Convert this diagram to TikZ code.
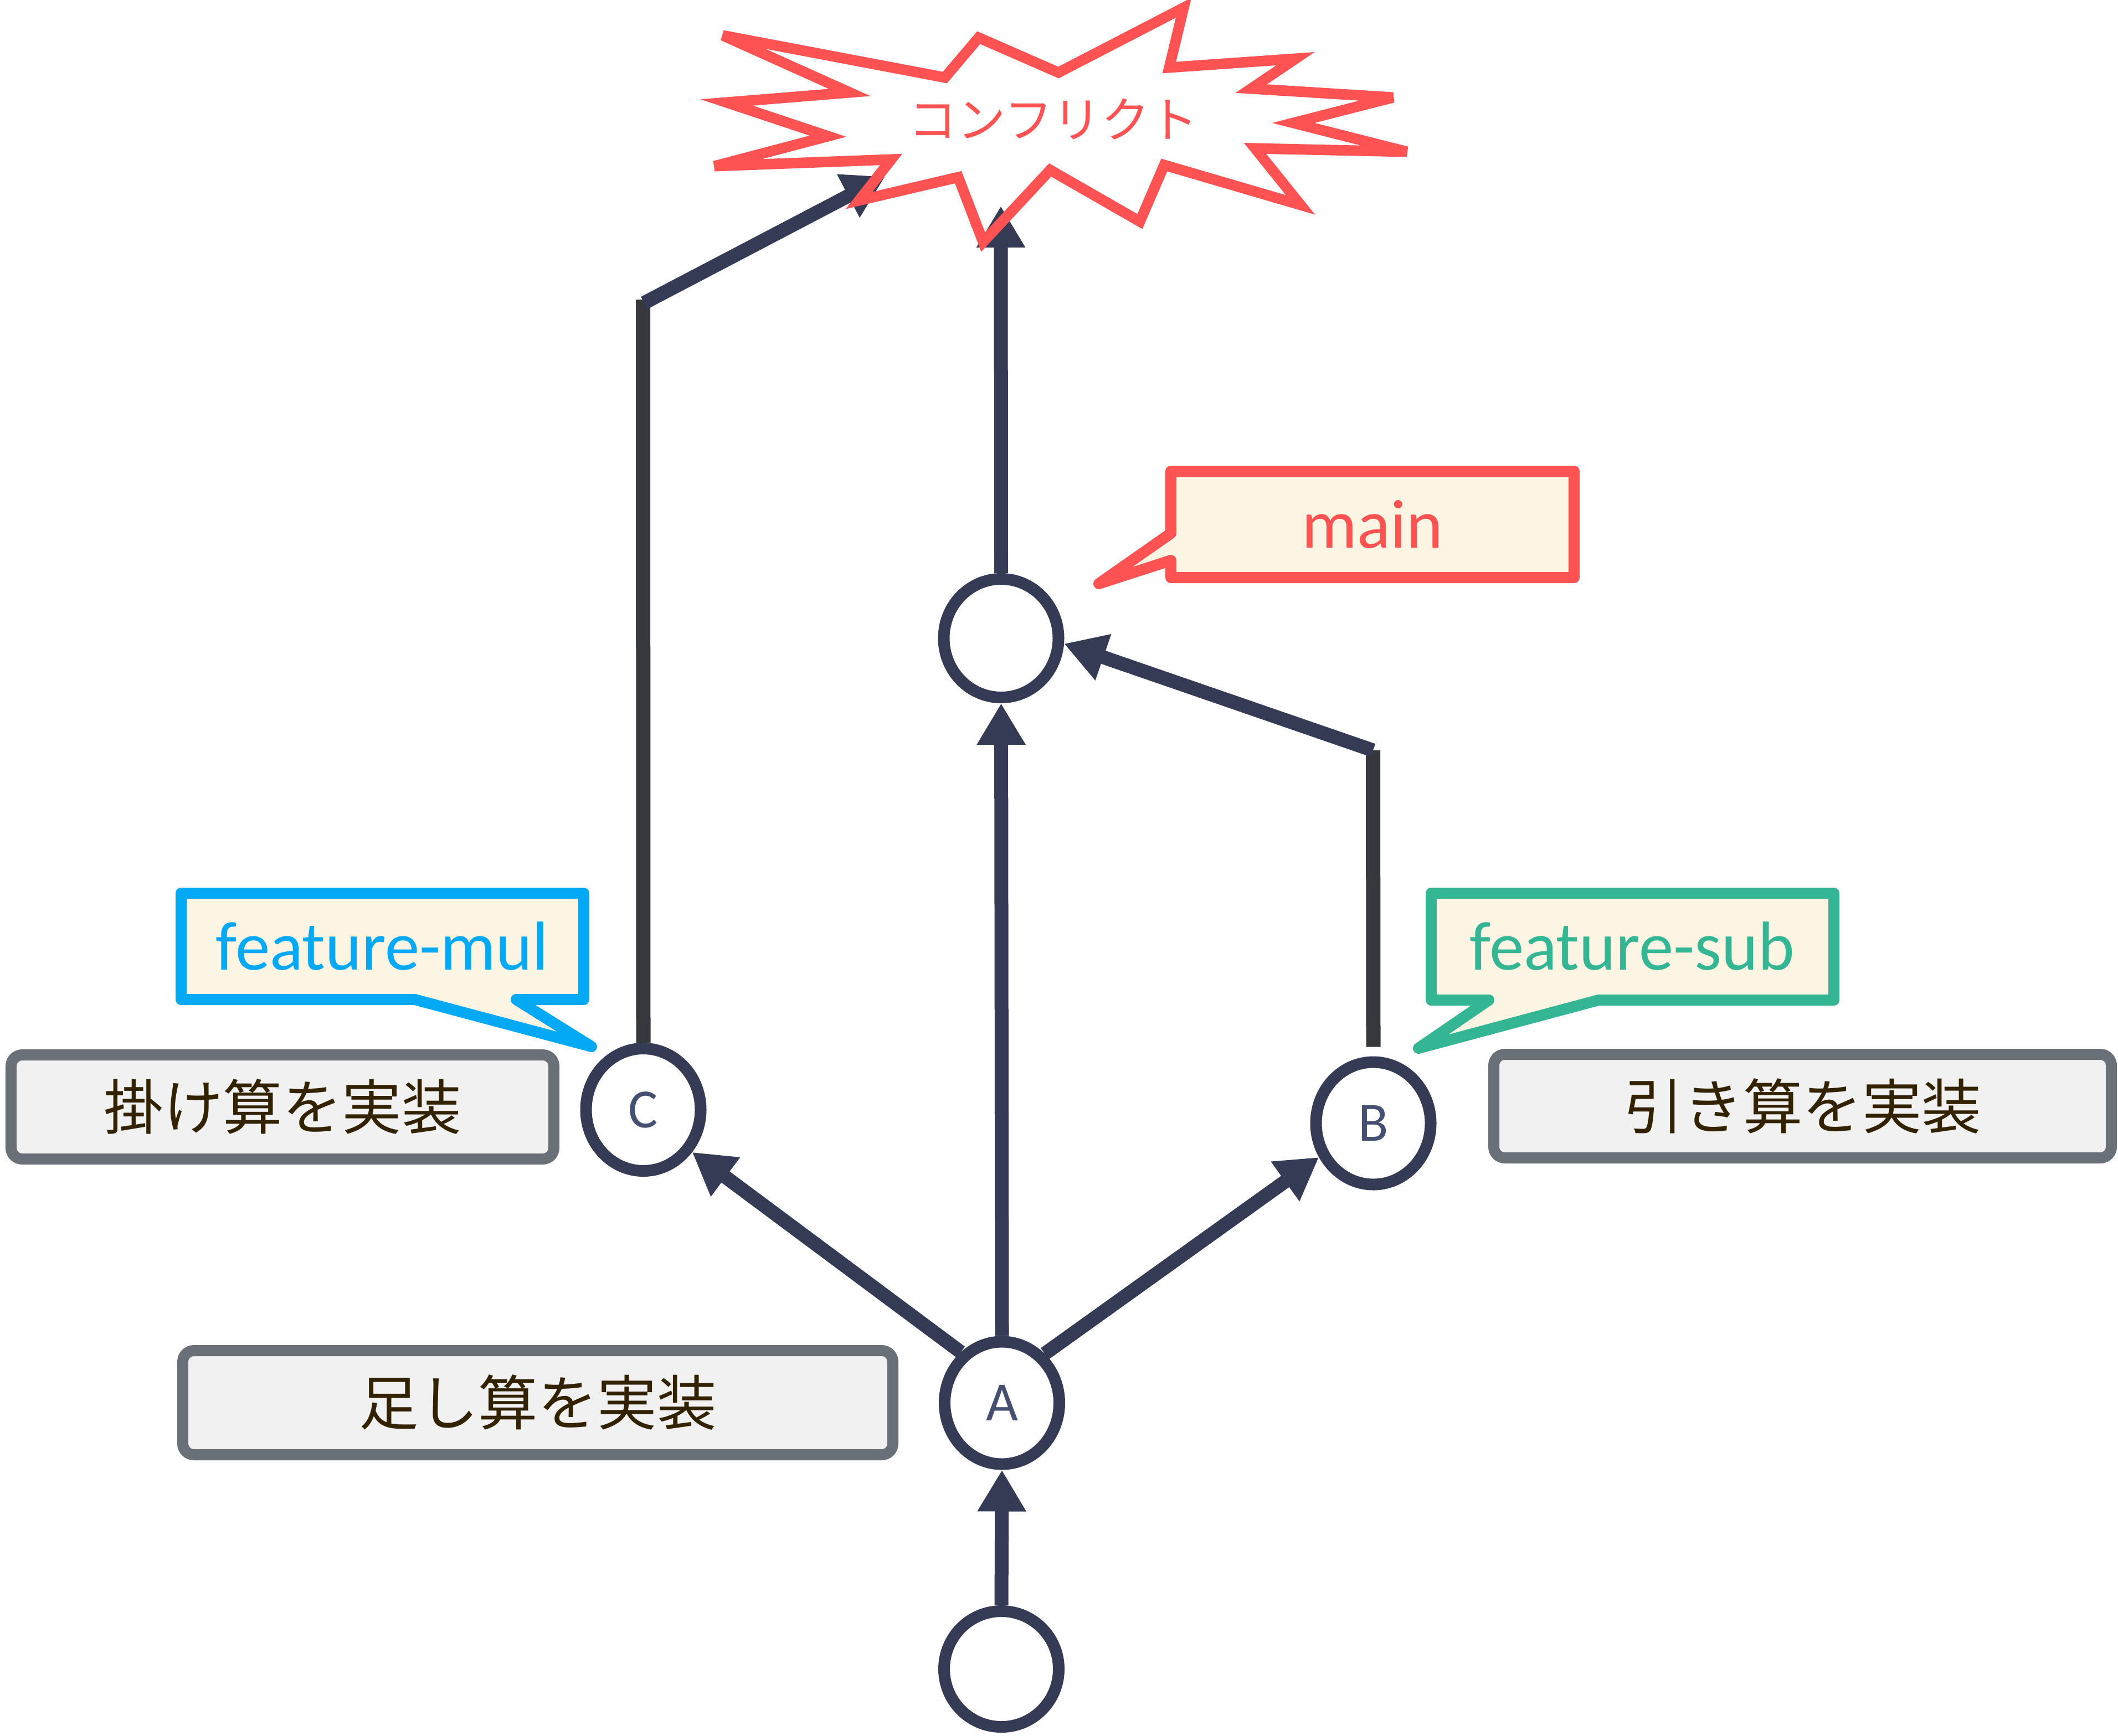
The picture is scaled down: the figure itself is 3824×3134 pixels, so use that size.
\documentclass[tikz,border=0pt]{standalone}
\usepackage{fontspec}
\usetikzlibrary{arrows.meta,shapes.geometric}
\newfontfamily\cjkfont{Noto Sans CJK JP}
\newfontfamily\latfont{Carlito}
\definecolor{navy}{RGB}{54,59,85}
\definecolor{stemgray}{RGB}{53,56,61}
\definecolor{lettercol}{RGB}{69,79,114}
\definecolor{redc}{RGB}{255,82,82}
\definecolor{bluec}{RGB}{3,169,244}
\definecolor{greenc}{RGB}{52,181,147}
\definecolor{cream}{RGB}{253,245,227}
\definecolor{boxgray}{RGB}{106,112,120}
\definecolor{boxfill}{RGB}{241,241,241}
\definecolor{txtbrown}{RGB}{51,34,0}
\begin{document}
\begin{tikzpicture}[x=0.2pt,y=-0.2pt,
  commit/.style={ellipse, draw=navy, line width=4.2pt, fill=white, inner sep=0pt,
    minimum width=41.4pt, minimum height=44.2pt,
    font=\latfont\fontsize{20pt}{24pt}\selectfont, text=lettercol},
  conn/.style={draw=navy, line width=5pt, -{Triangle[length=15pt,width=16.6pt]}},
  stem/.style={draw=stemgray, line width=5.2pt},
  taskbox/.style={rectangle, rounded corners=4pt, draw=boxgray, fill=boxfill, line width=4pt,
    inner sep=0pt, font=\cjkfont\fontsize{21.5pt}{26pt}\selectfont, text=txtbrown},
  callout/.style={line width=4pt, line join=round, fill=cream},
  calloutlbl/.style={font=\latfont\fontsize{25pt}{30pt}\selectfont, inner sep=0pt},
  burst/.style={draw=redc, line width=3.8pt, line join=miter, miter limit=6}
]
\useasboundingbox (0,0) rectangle (3824,3134);

% callouts
\draw[callout, draw=redc] (2114,851) -- (2842,851) -- (2842,1043) -- (2114,1043) -- (2114,1012) -- (1984,1054) -- (2114,963) -- cycle;
\node[calloutlbl, text=redc] (mainlbl) at (2478,947) {main};

\draw[callout, draw=bluec] (327,1613) -- (1054,1613) -- (1054,1805) -- (932,1805) -- (1068,1890) -- (749,1805) -- (327,1805) -- cycle;
\node[calloutlbl, text=bluec] (mullbl) at (690,1709) {feature-mul};

\draw[callout, draw=greenc] (2584,1613) -- (3311,1613) -- (3311,1806) -- (2886,1806) -- (2561,1893) -- (2688,1806) -- (2584,1806) -- cycle;
\node[calloutlbl, text=greenc] (sublbl) at (2947,1709) {feature-sub};

% task boxes
\node[taskbox, minimum width=196pt, minimum height=37.6pt] (mulbox) at (510,1999) {掛け算を実装};
\node[taskbox, minimum width=223pt, minimum height=37.4pt] (subbox) at (3254.5,1997.5) {引き算を実装};
\node[taskbox, minimum width=256.4pt, minimum height=37.6pt] (addbox) at (971,2533) {足し算を実装};

% commits
\node[commit, minimum height=41.8pt] (root) at (1808,3014) {};
\node[commit] (A) at (1809,2533.5) {A};
\node[commit] (C) at (1161.5,2004) {C};
\node[commit] (B) at (2479.5,2028.5) {B};
\node[commit, minimum height=42.8pt] (M) at (1807.5,1152.5) {};

% corner points and free ends
\coordinate (ccorner) at (1161,541);
\coordinate (bcorner) at (2479,1355);
\coordinate (cfC) at (1598,319);
\coordinate (cfM) at (1807,372);

% connectors
\draw[conn] (root.north) -- (A.south);
\draw[conn] (A.129) -- (C.-41.6);
\draw[conn] (A.49) -- (B.212.6);
\draw[conn] (A.north) -- (M.south);
\draw[stem] ([yshift=3.4pt]B.north) -- (bcorner);
\draw[conn] (bcorner) -- (M.-5.3);
\draw[stem] (C.north) -- (ccorner);
\draw[conn] ([shift={(0.4pt,-1.2pt)}]ccorner) -- (cfC);
\draw[conn] (M.north) -- (cfM);

% conflict burst
\draw[burst] (1305,64) -- (1706,140) -- (1767,68) -- (1911,131) -- (2137,14) -- (2111,122)
  -- (2339,106) -- (2259,160) -- (2515,176) -- (2335,222) -- (2540,274) -- (2266,268)
  -- (2348,370) -- (2102,298) -- (2058,400) -- (1896,307) -- (1775,437) -- (1730,320)
  -- (1551,362) -- (1609,288) -- (1290,300) -- (1495,246) -- (1312,185) -- (1534,167) -- cycle;
\node[font=\cjkfont\fontsize{17.5pt}{21pt}\selectfont, text=redc, inner sep=0pt] (conflict) at (1902,215) {コンフリクト};
\end{tikzpicture}
\end{document}
